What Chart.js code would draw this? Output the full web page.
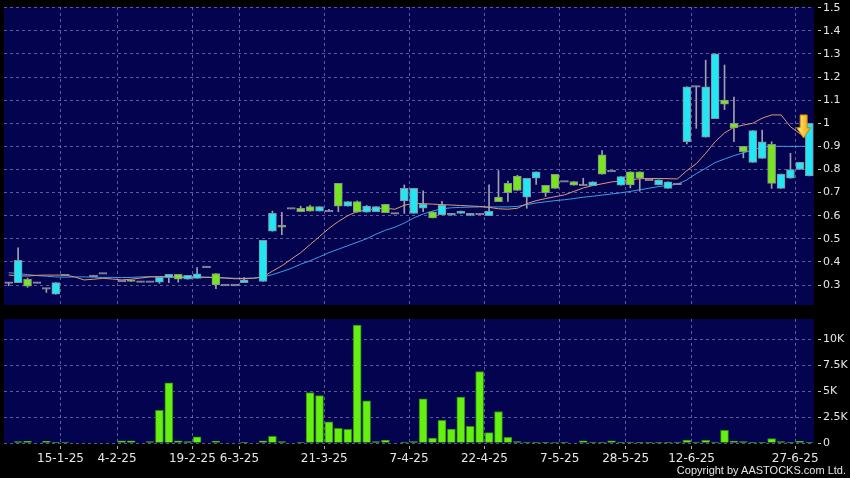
<!DOCTYPE html>
<html>
<head>
<meta charset="utf-8">
<title>Price chart</title>
<script src="https://cdn.jsdelivr.net/npm/chart.js@4.4.1/dist/chart.umd.min.js"></script>
<style>
  html, body { margin: 0; padding: 0; background: #000; }
  #wrap { position: relative; width: 850px; height: 478px; overflow: hidden; background: #000; }
  #priceChart { position: absolute; left: 0; top: 0; }
  #volChart { position: absolute; left: 0; top: 312px; }
  #copy { position: absolute; right: 4px; top: 464px; color: #e6e6e6;
          font: 11px 'Liberation Sans', Arial, sans-serif; white-space: nowrap; }
</style>
</head>
<body>
<div id="wrap">
  <canvas id="priceChart" width="850" height="312"></canvas>
  <canvas id="volChart" width="850" height="166"></canvas>
  <div id="copy">Copyright by AASTOCKS.com Ltd.</div>
</div>
<script>
// ---- data (one entry per trading slot, null = no candle) ----
const opens = [
  0.31, 0.31, 0.325, 0.31, 0.285, 0.26, 0.343, null, null, 0.34,
  0.35, null, 0.317, 0.322, 0.315, 0.315, 0.312, 0.332, 0.346, 0.325,
  0.329, 0.378, 0.35, 0.30, 0.30, 0.31, null, 0.315, 0.533, 0.558,
  0.632, 0.632, 0.639, 0.62, 0.62, 0.74, 0.641, 0.661, 0.615, 0.617,
  0.649, 0.61, 0.664, 0.61, 0.632, 0.617, 0.603, 0.602, 0.61, 0.601,
  0.607, 0.60, 0.68, 0.74, 0.771, 0.68, 0.762, 0.731, 0.779, 0.748,
  0.748, 0.733, 0.73, 0.863, 0.793, 0.732, 0.79, 0.79, 0.755, 0.733,
  0.718, 0.738, 0.92, 1.16, 0.94, 1.02, 1.10, 1.0, 0.90, 0.831,
  0.848, 0.909, 0.718, 0.762, 0.80, 0.772
];
const closes = [
  0.31, 0.407, 0.295, 0.31, 0.285, 0.31, 0.343, null, null, 0.34,
  0.35, null, 0.317, 0.316, 0.315, 0.315, 0.333, 0.346, 0.325, 0.342,
  0.348, 0.378, 0.30, 0.30, 0.30, 0.322, null, 0.493, 0.61, 0.55,
  0.632, 0.617, 0.62, 0.639, 0.62, 0.641, 0.661, 0.615, 0.642, 0.639,
  0.613, 0.61, 0.718, 0.718, 0.65, 0.59, 0.646, 0.61, 0.62, 0.61,
  0.607, 0.62, 0.661, 0.70, 0.709, 0.762, 0.79, 0.70, 0.718, 0.748,
  0.732, 0.733, 0.747, 0.78, 0.793, 0.769, 0.733, 0.762, 0.755, 0.755,
  0.747, 0.738, 1.158, 1.16, 1.158, 1.30, 1.082, 0.98, 0.877, 0.968,
  0.92, 0.74, 0.78, 0.80, 0.831, 1.0
];
const highs = [
  0.31, 0.461, 0.33, 0.31, 0.285, 0.31, 0.343, null, null, 0.34,
  0.35, null, 0.317, 0.322, 0.315, 0.315, 0.333, 0.346, 0.346, 0.342,
  0.375, 0.378, 0.35, 0.30, 0.30, 0.332, null, 0.493, 0.62, 0.615,
  0.632, 0.641, 0.645, 0.639, 0.627, 0.74, 0.661, 0.664, 0.645, 0.639,
  0.649, 0.61, 0.733, 0.718, 0.707, 0.617, 0.662, 0.61, 0.62, 0.61,
  0.607, 0.733, 0.795, 0.75, 0.775, 0.762, 0.79, 0.731, 0.779, 0.748,
  0.748, 0.762, 0.747, 0.882, 0.793, 0.769, 0.79, 0.79, 0.755, 0.755,
  0.747, 0.738, 1.158, 1.16, 1.273, 1.30, 1.252, 1.113, 0.90, 0.968,
  0.97, 0.92, 0.78, 0.87, 0.831, 1.0
];
const lows = [
  0.297, 0.31, 0.29, 0.31, 0.268, 0.26, 0.343, null, null, 0.34,
  0.35, null, 0.317, 0.316, 0.315, 0.315, 0.307, 0.31, 0.312, 0.325,
  0.329, 0.378, 0.284, 0.30, 0.30, 0.31, null, 0.315, 0.533, 0.518,
  0.632, 0.617, 0.62, 0.62, 0.62, 0.617, 0.641, 0.615, 0.615, 0.617,
  0.613, 0.61, 0.61, 0.61, 0.617, 0.59, 0.603, 0.602, 0.61, 0.601,
  0.607, 0.60, 0.661, 0.662, 0.709, 0.632, 0.735, 0.683, 0.718, 0.748,
  0.732, 0.733, 0.73, 0.78, 0.793, 0.732, 0.72, 0.706, 0.755, 0.733,
  0.718, 0.738, 0.911, 0.978, 0.94, 1.02, 1.059, 0.92, 0.85, 0.831,
  0.848, 0.718, 0.718, 0.762, 0.80, 0.772
];
const volumes = [
  0, 130, 160, 0, 160, 100, 100, 0, 0, 0,
  0, 0, 220, 220, 0, 130, 3140, 5800, 220, 130,
  600, 0, 190, 0, 0, 60, 0, 220, 640, 130,
  0, 100, 4870, 4570, 2050, 1410, 1310, 11370, 4070, 130,
  290, 0, 100, 130, 4250, 480, 2180, 1350, 4420, 1600,
  6880, 1000, 3040, 540, 130, 100, 100, 60, 40, 100,
  0, 220, 100, 100, 220, 30, 30, 30, 30, 30,
  30, 30, 290, 100, 260, 100, 1220, 190, 130, 60,
  60, 420, 130, 60, 160, 60
];
// short (orange) and long (blue) moving averages
const maShort = [
  0.343, 0.340, 0.339, 0.342, 0.343, 0.343, 0.343, 0.335, 0.322, 0.325,
  0.329, 0.326, 0.322, 0.325, 0.330, 0.335, 0.336, 0.335, 0.333, 0.332,
  0.333, 0.333, 0.332, 0.330, 0.327, 0.328, 0.329, 0.335, 0.360, 0.383,
  0.412, 0.440, 0.475, 0.510, 0.545, 0.575, 0.600, 0.618, 0.625, 0.630,
  0.632, 0.628, 0.645, 0.654, 0.652, 0.650, 0.648, 0.646, 0.644, 0.642,
  0.640, 0.636, 0.630, 0.628, 0.632, 0.652, 0.665, 0.674, 0.682, 0.690,
  0.705, 0.720, 0.730, 0.738, 0.746, 0.750, 0.755, 0.760, 0.761, 0.761,
  0.760, 0.759, 0.795, 0.825, 0.870, 0.920, 0.958, 0.983, 0.992, 1.000,
  1.022, 1.036, 1.036, 0.985, 0.955, 0.930
];
const maLong = [
  0.353, 0.350, 0.345, 0.341, 0.338, 0.335, 0.334, 0.335, 0.335, 0.334,
  0.333, 0.333, 0.332, 0.333, 0.335, 0.336, 0.336, 0.336, 0.336, 0.336,
  0.335, 0.334, 0.333, 0.331, 0.329, 0.329, 0.330, 0.335, 0.345, 0.358,
  0.372, 0.390, 0.405, 0.422, 0.440, 0.455, 0.470, 0.485, 0.500, 0.520,
  0.537, 0.550, 0.568, 0.590, 0.607, 0.620, 0.630, 0.634, 0.636, 0.637,
  0.638, 0.638, 0.638, 0.638, 0.640, 0.648, 0.655, 0.660, 0.665, 0.669,
  0.674, 0.680, 0.684, 0.689, 0.694, 0.699, 0.705, 0.712, 0.719, 0.726,
  0.731, 0.736, 0.755, 0.782, 0.805, 0.830, 0.845, 0.860, 0.872, 0.884,
  0.897, 0.900, 0.900, 0.900, 0.900, 0.900
];

// axis ticks
const priceTicks = [0.3, 0.4, 0.5, 0.6, 0.7, 0.8, 0.9, 1.0, 1.1, 1.2, 1.3, 1.4, 1.5];
const volTicks = [0, 2500, 5000, 7500, 10000];
const volTickLabels = ['0', '2.5K', '5K', '7.5K', '10K'];
const dateSlots = [5.5, 11.5, 19.5, 24.5, 33.5, 42.5, 50.5, 58.5, 65.5, 72.5, 83.5];
const dateLabels = ['15-1-25', '4-2-25', '19-2-25', '6-3-25', '21-3-25', '7-4-25',
                    '22-4-25', '7-5-25', '28-5-25', '12-6-25', '27-6-25'];
// signal arrow over the last candles (slot, top value, tip value)
const arrowSlot = 84.4, arrowTop = 1.036, arrowTip = 0.936;

// ---- styles ----
const NAVY = '#03034f';
const GRID = 'rgba(120,120,185,0.75)';
const TEXT = '#e6e6e6';
const UP = '#22e6f2';
const DOWN = '#78e61e';
const DOJI = '#9a9aa8';
const EDGE = '#8c8c9c';
const FONT = 'DejaVu Sans';
const SLOT_MIN = -0.5, SLOT_MAX = 85.5;

Chart.defaults.font.family = FONT;
Chart.defaults.color = TEXT;

// navy fill behind the plot area
const plotBg = {
  id: 'plotBg',
  beforeDraw(chart) {
    const { ctx, chartArea: a } = chart;
    ctx.save();
    ctx.fillStyle = NAVY;
    ctx.fillRect(a.left, a.top, a.right - a.left, a.bottom - a.top);
    ctx.restore();
  }
};

// yellow down arrow
const arrowMark = {
  id: 'arrowMark',
  afterDatasetsDraw(chart) {
    const { ctx, scales } = chart;
    const cx = scales.x.getPixelForValue(arrowSlot);
    const top = scales.y.getPixelForValue(arrowTop);
    const tip = scales.y.getPixelForValue(arrowTip);
    const neck = top + (tip - top) * 0.55;
    const g = ctx.createLinearGradient(cx - 7, 0, cx + 7, 0);
    g.addColorStop(0, '#fff08a');
    g.addColorStop(1, '#f0a000');
    ctx.save();
    ctx.beginPath();
    ctx.moveTo(cx - 3.5, top);
    ctx.lineTo(cx + 3.5, top);
    ctx.lineTo(cx + 3.5, neck);
    ctx.lineTo(cx + 7, neck);
    ctx.lineTo(cx, tip);
    ctx.lineTo(cx - 7, neck);
    ctx.lineTo(cx - 3.5, neck);
    ctx.closePath();
    ctx.fillStyle = g;
    ctx.fill();
    ctx.strokeStyle = '#c88a00';
    ctx.lineWidth = 1;
    ctx.stroke();
    ctx.restore();
  }
};

// shared x axis (slot index), gridlines on the date boundaries
function slotAxis(showLabels) {
  return {
    type: 'linear',
    min: SLOT_MIN,
    max: SLOT_MAX,
    offset: false,
    afterBuildTicks: s => { s.ticks = dateSlots.map(v => ({ value: v })); },
    afterFit: s => {
      s.height = showLabels ? 35 : 0;
      s.paddingLeft = 0;
      s.paddingRight = 0;
    },
    grid: {
      color: GRID, lineWidth: 1, offset: false,
      drawTicks: showLabels, tickLength: 6, tickColor: '#b0b0b0',
      tickBorderDash: [3, 3], tickBorderDashOffset: 3
    },
    border: { display: false, dash: [3, 3] },
    ticks: {
      display: showLabels,
      autoSkip: false, maxRotation: 0, padding: 3,
      color: TEXT, font: { family: FONT, size: 12 },
      callback: v => {
        const k = dateSlots.indexOf(v);
        return k >= 0 ? dateLabels[k] : '';
      }
    }
  };
}

function rightAxis(min, max, tickValues, fmt) {
  return {
    position: 'right',
    min: min,
    max: max,
    afterBuildTicks: s => { s.ticks = tickValues.map(v => ({ value: v })); },
    afterFit: s => { s.width = 36; s.paddingTop = 0; s.paddingBottom = 0; },
    grid: {
      color: GRID, lineWidth: 1,
      drawTicks: true, tickLength: 7, tickColor: '#c8c8c8',
      tickBorderDash: [3, 4], tickBorderDashOffset: 3
    },
    border: { display: false, dash: [3, 3] },
    ticks: {
      padding: 2, color: TEXT, font: { family: FONT, size: 11 },
      callback: fmt
    }
  };
}

// ---- price chart ----
const bodyData = [], bodyColors = [], wickData = [];
opens.forEach((o, i) => {
  if (o === null) return;
  const c = closes[i];
  wickData.push({ x: i, y: [lows[i], highs[i]] });
  if (o === c) {
    bodyData.push({ x: i, y: [o - 0.0035, o + 0.0035] });
    bodyColors.push(DOJI);
  } else {
    bodyData.push({ x: i, y: [o, c] });
    bodyColors.push(c > o ? UP : DOWN);
  }
});

new Chart(document.getElementById('priceChart'), {
  type: 'bar',
  data: {
    datasets: [
      {
        type: 'bar', label: 'body', data: bodyData,
        backgroundColor: bodyColors, borderColor: EDGE, borderWidth: 1,
        borderSkipped: false, barThickness: 8, grouped: false, order: 0
      },
      {
        type: 'line', label: 'MA short', data: maShort.map((v, i) => ({ x: i, y: v })),
        borderColor: '#e0977c', borderWidth: 1, pointRadius: 0, tension: 0, order: 1
      },
      {
        type: 'line', label: 'MA long', data: maLong.map((v, i) => ({ x: i, y: v })),
        borderColor: '#3d9de6', borderWidth: 1, pointRadius: 0, tension: 0, order: 2
      },
      {
        type: 'bar', label: 'wick', data: wickData,
        backgroundColor: '#a0a0b0', borderWidth: 0,
        barThickness: 1, grouped: false, order: 3
      }
    ]
  },
  options: {
    responsive: false,
    animation: false,
    devicePixelRatio: 1,
    layout: { padding: { left: 4, top: 7, right: 0, bottom: 7 } },
    plugins: { legend: { display: false }, tooltip: { enabled: false } },
    scales: {
      x: slotAxis(false),
      y: rightAxis(0.2135, 1.503, priceTicks, v => String(Math.round(v * 10) / 10))
    }
  },
  plugins: [plotBg, arrowMark]
});

// ---- volume chart ----
const volData = [];
volumes.forEach((v, i) => { if (v > 0) volData.push({ x: i, y: v }); });

new Chart(document.getElementById('volChart'), {
  type: 'bar',
  data: {
    datasets: [{
      label: 'Volume', data: volData,
      backgroundColor: '#66f012', borderColor: '#2e8a12', borderWidth: 1,
      borderSkipped: 'bottom', barThickness: 8
    }]
  },
  options: {
    responsive: false,
    animation: false,
    devicePixelRatio: 1,
    layout: { padding: { left: 4, top: 7, right: 0, bottom: 0 } },
    plugins: { legend: { display: false }, tooltip: { enabled: false } },
    scales: {
      x: slotAxis(true),
      y: rightAxis(0, 11950, volTicks, v => {
        const k = volTicks.indexOf(v);
        return k >= 0 ? volTickLabels[k] : '';
      })
    }
  },
  plugins: [plotBg]
});
</script>
</body>
</html>
